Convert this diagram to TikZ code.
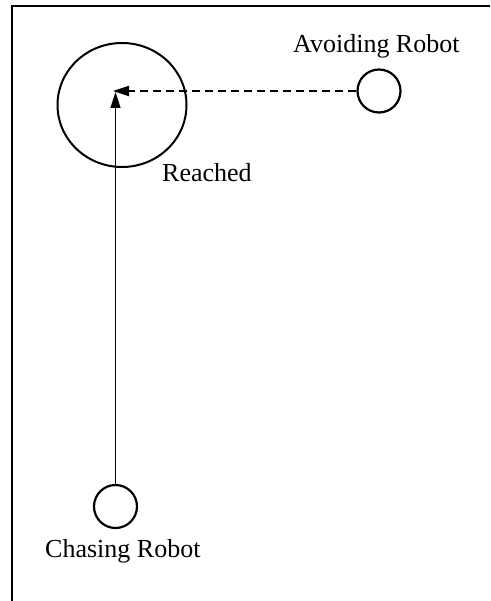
\documentclass[tikz,border=0pt]{standalone}
\usepackage{fontspec}
\setmainfont{Liberation Serif}
\usetikzlibrary{arrows.meta,shapes.geometric}
\begin{document}
\begin{tikzpicture}[x=1pt,y=-1pt,
  robot/.style={circle,draw,line width=2.2pt,minimum size=43pt,inner sep=0pt},
  zone/.style={ellipse,draw,line width=2pt,minimum width=129pt,minimum height=124pt,inner sep=0pt},
  lbl/.style={anchor=base west,inner sep=0pt,font=\fontsize{26}{30}\selectfont},
  tipstyle/.style={-{Triangle[length=16pt,width=10pt]}}]
\useasboundingbox (0,0) rectangle (490,601);
\draw[line width=2pt] (12,601) -- (12,6) -- (490,6);
\node[zone] (reach) at (122,105) {};
\node[robot] (avoid) at (379,91) {};
\node[robot] (chase) at (115.5,506.5) {};
\coordinate (tipv) at (115.5,92);
\coordinate (tiph) at (113,91);
\draw[tipstyle,line width=1.5pt] (chase.north) -- (tipv);
\draw[tipstyle,line width=2pt,dash pattern=on 8pt off 5pt] (avoid.west) -- (tiph);
\node[lbl] (alab) at (293,53) {Avoiding Robot};
\node[lbl] (rlab) at (162,182) {Reached};
\node[lbl] (clab) at (45,557) {Chasing Robot};
\end{tikzpicture}
\end{document}
